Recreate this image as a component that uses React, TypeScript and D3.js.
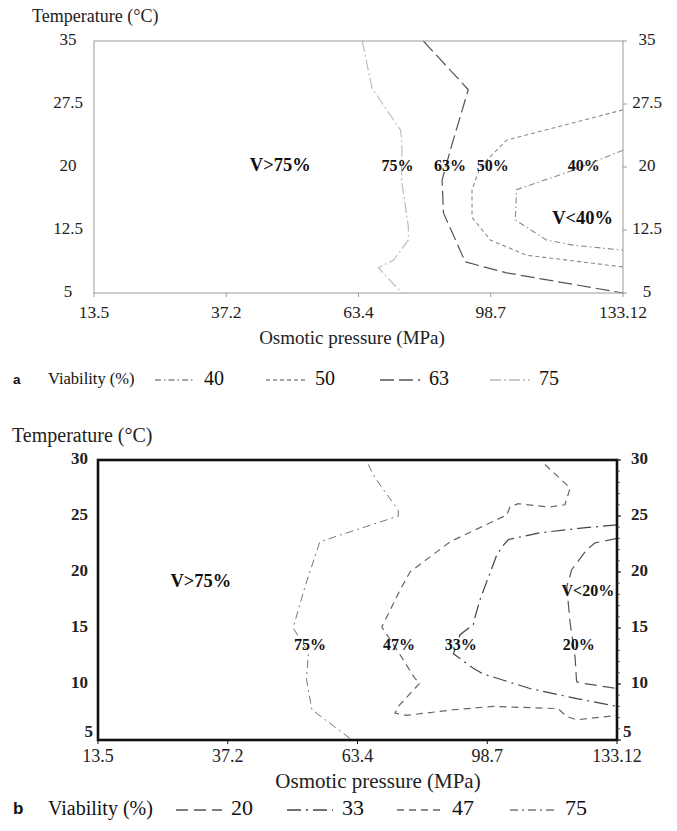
import React from "react";
import * as d3 from "d3";

// shared x categories (evenly spaced on the original figure)
const xTicks = [13.5, 37.2, 63.4, 98.7, 133.12];
const xTickLabels = ["13.5", "37.2", "63.4", "98.7", "133.12"];

// panel a
const yTicksA = [5, 12.5, 20, 27.5, 35];
const yTickLabelsA = ["5", "12.5", "20", "27.5", "35"];
const a75 = [[64.4, 35], [67, 29.4], [74.6, 24.4], [75, 22.9], [74.9, 18.4], [76.7, 12.9], [76.7, 11.3], [72.7, 8.9], [68.7, 8], [75, 5]];
const a63 = [[80.7, 35], [92.7, 29.2], [87.9, 22], [85.7, 18.4], [86.1, 14.5], [91.9, 8.7], [102.8, 7.4], [133.12, 5]];
const a50 = [[133.12, 26.8], [102.8, 23.2], [95.9, 20], [93.7, 17.3], [93.7, 14], [98.6, 11.3], [108, 9.5], [133.12, 8.1]];
const a40 = [[133.12, 22], [120.1, 19.6], [105.4, 17.3], [105.1, 13.7], [113.2, 11.3], [120.1, 10.7], [133.12, 10.1]];
const labelsA = [
  { text: "V>75%", x: 47.9, y: 20, big: true },
  { text: "75%", x: 73.8, y: 20 },
  { text: "63%", x: 87.8, y: 20 },
  { text: "50%", x: 99.2, y: 20 },
  { text: "40%", x: 122.9, y: 20 },
  { text: "V<40%", x: 122.6, y: 13.7, big: true },
];
const legendA = ["40", "50", "63", "75"];

// panel b
const yTicksB = [5, 10, 15, 20, 25, 30];
const b75 = [[66.3, 29.6], [68.2, 28.4], [74.5, 25.5], [74.5, 25], [55.8, 22.7], [52.8, 18.7], [50.4, 15], [53.5, 12.8], [53.1, 10.4], [54.2, 7.7], [62.3, 5]];
const b47 = [[114, 29.6], [120.7, 27.5], [119.3, 26], [115.3, 25.8], [106.9, 26.1], [104.7, 25.8], [103.9, 25.1], [88.6, 22.7], [77.7, 20], [75, 18.4], [70, 15.1], [75.4, 12.4], [79, 10.5], [80.4, 10.1], [74.5, 8], [73.6, 7.4], [76.8, 7.2], [89.4, 7.7], [100.2, 8], [117.5, 7.8], [119.8, 7.1], [122.4, 6.8], [133.12, 7.2]];
const b33 = [[133.12, 24.2], [122.9, 23.9], [112.7, 23.5], [104.3, 22.9], [103, 22.4], [101.2, 21.5], [96.7, 17.5], [95.4, 16], [94.9, 15.3], [91.3, 14.4], [89.5, 12.7], [94.9, 11.4], [97.6, 10.9], [110, 9.6], [122.4, 8.7], [133.12, 8]];
const b20 = [[133.12, 23], [127.3, 22.6], [125.1, 22], [121.1, 20.2], [119.8, 18.7], [120.2, 17.2], [120.7, 15.4], [122, 12.4], [122.4, 10.2], [123.3, 10.1], [133.12, 9.6]];
const labelsB = [
  { text: "V>75%", x: 32.3, y: 19, big: true },
  { text: "75%", x: 53.8, y: 13.4 },
  { text: "47%", x: 74.7, y: 13.4 },
  { text: "33%", x: 91.5, y: 13.4 },
  { text: "20%", x: 123, y: 13.4 },
  { text: "V<20%", x: 125.4, y: 18.2 },
];
const legendB = ["20", "33", "47", "75"];

const serif = "'Liberation Serif', 'Times New Roman', serif";

const styleA: Record<string, { stroke: string; dash: string; w: number }> = {
  "40": { stroke: "#8a8a8a", dash: "6,3,1.5,3", w: 1.1 },
  "50": { stroke: "#8a8a8a", dash: "4,3", w: 1.1 },
  "63": { stroke: "#555", dash: "14,5", w: 1.2 },
  "75": { stroke: "#b8b8b8", dash: "11,3,2,3", w: 1.1 },
};
const styleB: Record<string, { stroke: string; dash: string; w: number }> = {
  "20": { stroke: "#555", dash: "12,6", w: 1.2 },
  "33": { stroke: "#444", dash: "14,5,2,5", w: 1.2 },
  "47": { stroke: "#666", dash: "7,5", w: 1.2 },
  "75": { stroke: "#777", dash: "8,4,2,4", w: 1 },
};

function Panel(props: any) {
  const { left, right, top, bottom, yDomain, yTicks, yLabels, series, labels, thick } = props;
  const x = d3
    .scaleLinear()
    .domain(xTicks)
    .range(xTicks.map((_, i) => left + ((right - left) * i) / (xTicks.length - 1)));
  const y = d3.scaleLinear().domain(yDomain).range([bottom, top]);
  const line = d3
    .line<number[]>()
    .x(d => x(d[0]))
    .y(d => y(d[1]));
  const axisColor = thick ? "#111" : "#999";
  const axisW = thick ? 2.6 : 1;
  const minor = thick ? d3.range(yDomain[0], yDomain[1] + 0.01, 1) : [];
  return (
    <g fontFamily={serif}>
      {series.map((s: any) => (
        <path key={s.key} d={line(s.data) || ""} fill="none" stroke={s.style.stroke} strokeWidth={s.style.w} strokeDasharray={s.style.dash} />
      ))}
      <rect x={left} y={top} width={right - left} height={bottom - top} fill="none" stroke={axisColor} strokeWidth={axisW} />
      {yTicks.map((t: number) => (
        <line key={"rt" + t} x1={right} x2={right + 4} y1={y(t)} y2={y(t)} stroke={axisColor} strokeWidth={1} />
      ))}
      {minor.map((t: number) => (
        <line key={"mn" + t} x1={right} x2={right + 3} y1={y(t)} y2={y(t)} stroke="#333" strokeWidth={0.8} />
      ))}
      {xTicks.map(t => (
        <line key={"bt" + t} x1={x(t)} x2={x(t)} y1={bottom} y2={bottom + 4} stroke={axisColor} strokeWidth={1} />
      ))}
      {yTicks.map((t: number, i: number) =>
        thick ? (
          <g key={"yl" + t} fontSize={17} fontWeight="bold" fill="#222">
            <text x={i === 0 ? left - 5 : left - 10} y={i === 0 ? y(t) - 7 : y(t)} textAnchor="end" dominantBaseline="middle">{yLabels[i]}</text>
            <text x={i === 0 ? right + 6 : right + 14} y={i === 0 ? y(t) - 7 : y(t)} dominantBaseline="middle">{yLabels[i]}</text>
          </g>
        ) : (
          <g key={"yl" + t} fontSize={17} fill="#222">
            <text x={left - 26} y={y(t)} textAnchor="middle" dominantBaseline="middle">{yLabels[i]}</text>
            <text x={right + 24} y={y(t)} textAnchor="middle" dominantBaseline="middle">{yLabels[i]}</text>
          </g>
        )
      )}
      {xTicks.map((t, i) => (
        <text key={"xl" + t} x={x(t)} y={bottom + (thick ? 22 : 25)} textAnchor="middle" fontSize={thick ? 18 : 17.5} fill="#222">{xTickLabels[i]}</text>
      ))}
      {labels.map((l: any) => (
        <text key={l.text} x={x(l.x)} y={y(l.y)} textAnchor="middle" dominantBaseline="middle" fontSize={l.big ? 18.5 : 16} fontWeight="bold" fill="#111">{l.text}</text>
      ))}
    </g>
  );
}

function Legend(props: any) {
  const { letter, y, items, styles, pos, titleSize, numSize, lineW } = props;
  return (
    <g fontFamily={serif} fill="#111">
      <text x={13} y={y} fontSize={titleSize - 3} fontWeight="bold" fontFamily="'Liberation Sans', Arial, sans-serif" dominantBaseline="middle">{letter}</text>
      <text x={48} y={y} fontSize={titleSize} dominantBaseline="middle">Viability (%)</text>
      {items.map((k: string, i: number) => (
        <g key={k}>
          <line x1={pos[i]} x2={pos[i] + lineW} y1={y} y2={y} stroke={styles[k].stroke} strokeWidth={1.3} strokeDasharray={styles[k].dash} />
          <text x={pos[i] + lineW + 9} y={y} fontSize={numSize} dominantBaseline="middle">{k}</text>
        </g>
      ))}
    </g>
  );
}

export default function App() {
  return (
    <svg width={677} height={831} style={{ position: "absolute", left: 0, top: 0, background: "#fff" }}>
      <text x={32} y={18} fontFamily={serif} fontSize={18} fill="#222" dominantBaseline="middle">Temperature (°C)</text>
      <Panel
        left={94} right={623} top={41} bottom={293}
        yDomain={[5, 35]} yTicks={yTicksA} yLabels={yTickLabelsA}
        series={[
          { key: "75", data: a75, style: styleA["75"] },
          { key: "63", data: a63, style: styleA["63"] },
          { key: "50", data: a50, style: styleA["50"] },
          { key: "40", data: a40, style: styleA["40"] },
        ]}
        labels={labelsA} thick={false}
      />
      <text x={352} y={340} textAnchor="middle" fontFamily={serif} fontSize={19} fill="#222" dominantBaseline="middle">Osmotic pressure (MPa)</text>
      <Legend letter="a" y={380} items={legendA} styles={styleA} pos={[155, 266, 380, 490]} titleSize={16.5} numSize={20} lineW={40} />

      <text x={12} y={437} fontFamily={serif} fontSize={20} fill="#222" dominantBaseline="middle">Temperature (°C)</text>
      <Panel
        left={98} right={617} top={460} bottom={740}
        yDomain={[5, 30]} yTicks={yTicksB} yLabels={yTicksB.map(String)}
        series={[
          { key: "75", data: b75, style: styleB["75"] },
          { key: "47", data: b47, style: styleB["47"] },
          { key: "33", data: b33, style: styleB["33"] },
          { key: "20", data: b20, style: styleB["20"] },
        ]}
        labels={labelsB} thick={true}
      />
      <text x={378} y={783} textAnchor="middle" fontFamily={serif} fontSize={21} fill="#222" dominantBaseline="middle">Osmotic pressure (MPa)</text>
      <Legend letter="b" y={810} items={legendB} styles={styleB} pos={[176, 287, 397, 510]} titleSize={20} numSize={22} lineW={46} />
    </svg>
  );
}
